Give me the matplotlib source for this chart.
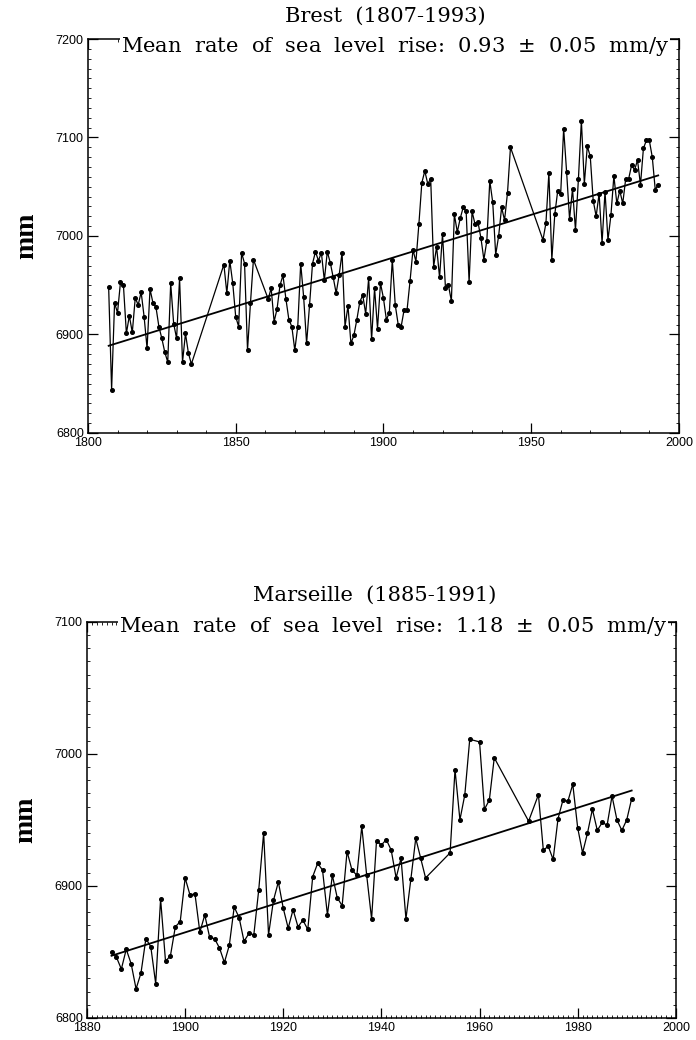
import matplotlib.pyplot as plt
import numpy as np
from matplotlib.ticker import MultipleLocator

# Brest annual mean sea level (mm)
brest_years = (list(range(1807, 1836)) + list(range(1846, 1857)) +
               list(range(1861, 1944)) + list(range(1954, 1994)))
brest_mm = [6948, 6844, 6932, 6922, 6953, 6950, 6901, 6919, 6902, 6937,
            6930, 6943, 6918, 6886, 6946, 6932, 6928, 6908, 6896, 6882,
            6872, 6952, 6911, 6896, 6957, 6872, 6901, 6881, 6870,
            6971, 6942, 6975, 6952, 6918, 6908, 6983, 6972, 6884, 6932,
            6976,
            6936, 6947, 6913, 6926, 6950, 6960, 6936, 6915, 6908, 6884,
            6908, 6972, 6938, 6891, 6930, 6972, 6984, 6975, 6983, 6955,
            6984, 6973, 6958, 6942, 6960, 6983, 6908, 6929, 6891, 6899,
            6915, 6933, 6940, 6921, 6957, 6895, 6947, 6906, 6952, 6937,
            6915, 6922, 6976, 6930, 6910, 6908, 6925, 6925, 6954, 6986,
            6974, 7012, 7054, 7066, 7053, 7058, 6969, 6989, 6958, 7002,
            6947, 6950, 6934, 7022, 7004, 7018, 7029, 7025, 6953, 7025,
            7012, 7014, 6998, 6976, 6995, 7056, 7034, 6981, 7000, 7029,
            7016, 7044, 7090,
            6996, 7013, 7064, 6976, 7022, 7046, 7043, 7109, 7065, 7017,
            7048, 7006, 7058, 7117, 7053, 7091, 7081, 7036, 7020, 7043,
            6993, 7045, 6996, 7021, 7061, 7033, 7046, 7033, 7058, 7058,
            7072, 7067, 7077, 7052, 7089, 7097, 7097, 7080, 7047, 7052]
brest_rate = 0.93
brest_ref = (1900, 6975)

# Marseille annual mean sea level (mm)
mars_years = (list(range(1885, 1950)) + list(range(1954, 1959)) +
              list(range(1960, 1964)) + list(range(1970, 1971)) +
              list(range(1972, 1992)))
mars_mm = [6850, 6846, 6837, 6852, 6841, 6822, 6834, 6860, 6854, 6826,
           6890, 6843, 6847, 6869, 6873, 6906, 6893, 6894, 6865, 6878,
           6861, 6860, 6853, 6842, 6855, 6884, 6876, 6858, 6864, 6863,
           6897, 6940, 6863, 6889, 6903, 6883, 6868, 6882, 6869, 6874,
           6867, 6907, 6917, 6912, 6878, 6908, 6891, 6885, 6926, 6912,
           6908, 6945, 6908, 6875, 6934, 6931, 6935, 6927, 6906, 6921,
           6875, 6905, 6936, 6921, 6906,
           6925, 6988, 6950, 6969, 7011,
           7009, 6958, 6965, 6997,
           6949,
           6969, 6927, 6930, 6920, 6951, 6965, 6964, 6977, 6944, 6925,
           6940, 6958, 6942, 6948, 6946, 6968, 6950, 6942, 6950, 6966]
mars_rate = 1.18
mars_ref = (1940, 6912)

plt.rcParams['font.family'] = 'Liberation Sans'

fig = plt.figure(figsize=(6.96, 10.4), dpi=100)
ax1 = fig.add_axes([0.1264, 0.5837, 0.849, 0.3788])
ax2 = fig.add_axes([0.125, 0.0212, 0.846, 0.381])


def draw(ax, years, vals, rate, ref, xlim, ylim, xmaj, xmin):
    ax.plot(years, vals, color='black', lw=0.9, marker='o', ms=2.6)
    tx = np.array([years[0], years[-1]])
    ax.plot(tx, ref[1] + rate * (tx - ref[0]), color='black', lw=1.3)
    ax.set_xlim(*xlim)
    ax.set_ylim(*ylim)
    ax.xaxis.set_major_locator(MultipleLocator(xmaj))
    ax.xaxis.set_minor_locator(MultipleLocator(xmin))
    ax.yaxis.set_major_locator(MultipleLocator(100))
    ax.yaxis.set_minor_locator(MultipleLocator(10))
    ax.tick_params(which='both', direction='in', top=True, right=True,
                   labelsize=9, pad=3)
    ax.tick_params(which='major', length=7, width=0.9)
    ax.tick_params(which='minor', length=2, width=0.6)
    for s in ax.spines.values():
        s.set_linewidth(1.1)
    ax.set_ylabel('mm', family='Liberation Serif', fontsize=20,
                  fontweight='bold', labelpad=12)


draw(ax1, brest_years, brest_mm, brest_rate, brest_ref,
     (1800, 2000), (6800, 7200), 50, 10)
draw(ax2, mars_years, mars_mm, mars_rate, mars_ref,
     (1880, 2000), (6800, 7100), 20, 1)

serif = dict(family='DejaVu Serif', fontsize=15.1, color='black')
box = dict(facecolor='white', edgecolor='none', pad=0.5)
ax1.text(0.503, 1.058, 'Brest  (1807-1993)', transform=ax1.transAxes,
         ha='center', va='center', **serif)
ax1.text(0.52, 0.98,
         'Mean  rate  of  sea  level  rise:  0.93  $\\pm$  0.05  mm/y',
         transform=ax1.transAxes, ha='center', va='center', bbox=box,
         **serif)
ax2.text(0.489, 1.066, 'Marseille  (1885-1991)', transform=ax2.transAxes,
         ha='center', va='center', **serif)
ax2.text(0.52, 0.987,
         'Mean  rate  of  sea  level  rise:  1.18  $\\pm$  0.05  mm/y',
         transform=ax2.transAxes, ha='center', va='center', bbox=box,
         **serif)

fig.savefig('out.png', dpi=100)
